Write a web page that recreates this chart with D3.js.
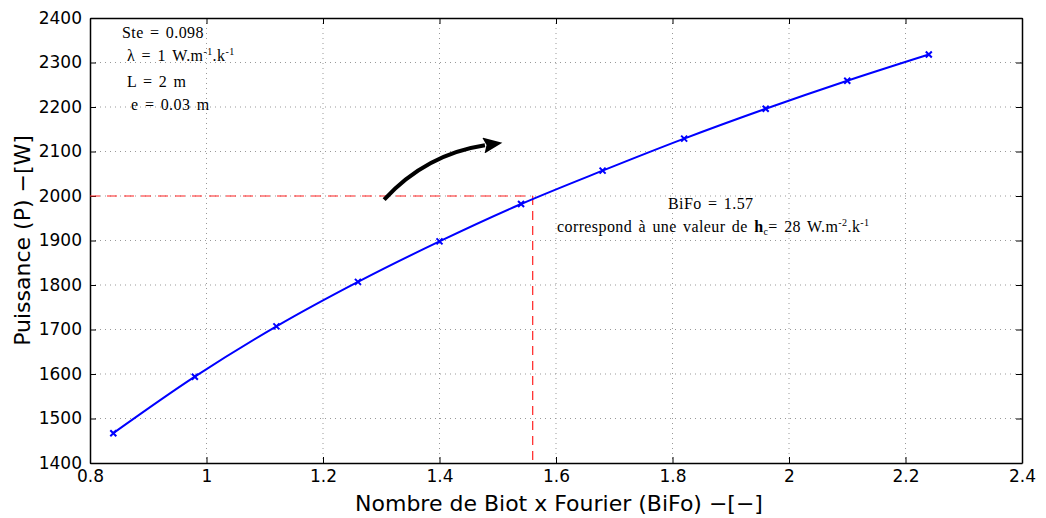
<!DOCTYPE html>
<html><head><meta charset="utf-8">
<script src="https://cdn.jsdelivr.net/npm/d3@7"></script>
<style>body{margin:0;background:#fff}svg{display:block}</style>
</head><body><svg id="c" width="1046" height="518"></svg>
<script>
const bifo = [0.84, 0.98, 1.12, 1.26, 1.40, 1.54, 1.68, 1.82, 1.96, 2.10, 2.24];
const power = [1467, 1594, 1707, 1807, 1898, 1982, 2057, 2129, 2196, 2259, 2318];
const xTicks = [0.8, 1, 1.2, 1.4, 1.6, 1.8, 2, 2.2, 2.4];
const yTicks = [1400, 1500, 1600, 1700, 1800, 1900, 2000, 2100, 2200, 2300, 2400];
const refX = 1.56, refY = 2000;
const arrowPts = [[1.305, 1992], [1.377, 2094], [1.478, 2114]];

const svg = d3.select("#c");
const L = 90, R = 1022, T = 18, B = 463;
const x = d3.scaleLinear().domain([0.8, 2.4]).range([L, R]);
const y = d3.scaleLinear().domain([1400, 2400]).range([B, T]);

// grid
const g = svg.append("g");
g.selectAll("line.gx").data(xTicks.slice(1, -1)).join("line")
  .attr("x1", d => x(d)).attr("x2", d => x(d)).attr("y1", T).attr("y2", B)
  .attr("stroke", "#999").attr("stroke-width", 1).attr("stroke-dasharray", "1,4");
g.selectAll("line.gy").data(yTicks.slice(1, -1)).join("line")
  .attr("y1", d => y(d)).attr("y2", d => y(d)).attr("x1", L).attr("x2", R)
  .attr("stroke", "#999").attr("stroke-width", 1).attr("stroke-dasharray", "1,4");

// axes
const tickFmt = d => String(d);
const ax = svg.append("g").attr("transform", `translate(0,${B})`)
  .call(d3.axisBottom(x).tickValues(xTicks).tickFormat(tickFmt).tickSizeInner(-6).tickSizeOuter(0).tickPadding(7));
const ay = svg.append("g").attr("transform", `translate(${L},0)`)
  .call(d3.axisLeft(y).tickValues(yTicks).tickFormat(tickFmt).tickSizeInner(-6).tickSizeOuter(0).tickPadding(8));
const at = svg.append("g").attr("transform", `translate(0,${T})`)
  .call(d3.axisTop(x).tickValues(xTicks).tickFormat("").tickSizeInner(-6).tickSizeOuter(0));
const ar = svg.append("g").attr("transform", `translate(${R},0)`)
  .call(d3.axisRight(y).tickValues(yTicks).tickFormat("").tickSizeInner(-6).tickSizeOuter(0));
[ax, ay, at, ar].forEach(a => {
  a.select(".domain").attr("stroke", "#000").attr("stroke-width", 1.5);
  a.selectAll(".tick line").attr("stroke", "#000");
  a.selectAll("text").attr("font-family", "DejaVu Sans").attr("font-size", 17).attr("fill", "#000");
});

// red reference lines
svg.append("line").attr("x1", x(0.8)).attr("x2", x(refX)).attr("y1", y(refY)).attr("y2", y(refY))
  .attr("stroke", "#f22").attr("stroke-width", 1.2).attr("stroke-dasharray", "10,7");
svg.append("line").attr("x1", x(refX)).attr("x2", x(refX)).attr("y1", y(refY)).attr("y2", B)
  .attr("stroke", "#f22").attr("stroke-width", 1.2).attr("stroke-dasharray", "9,6");

// data line
svg.append("path").datum(bifo.map((d, i) => [d, power[i]]))
  .attr("d", d3.line().x(d => x(d[0])).y(d => y(d[1])).curve(d3.curveMonotoneX))
  .attr("fill", "none").attr("stroke", "#0000ff").attr("stroke-width", 2);
svg.selectAll("path.mk").data(bifo.map((d, i) => [d, power[i]])).join("path")
  .attr("d", d => { const cx = x(d[0]), cy = y(d[1]), s = 3; return `M${cx-s},${cy-s}L${cx+s},${cy+s}M${cx-s},${cy+s}L${cx+s},${cy-s}`; })
  .attr("stroke", "#0000ff").attr("stroke-width", 2);

// arrow
const defs = svg.append("defs");
defs.append("marker").attr("id", "ah").attr("viewBox", "0 0 12 10").attr("refX", 1).attr("refY", 5)
  .attr("markerWidth", 6).attr("markerHeight", 4).attr("markerUnits", "strokeWidth").attr("orient", "auto")
  .append("path").attr("d", "M0,0L12,5L0,10L2,5Z").attr("fill", "#000");
const p0 = arrowPts.map(d => [x(d[0]), y(d[1])]);
svg.append("path").attr("d", `M${p0[0][0]},${p0[0][1]}Q${p0[1][0]},${p0[1][1]} ${p0[2][0]},${p0[2][1]}`)
  .attr("fill", "none").attr("stroke", "#000").attr("stroke-width", 4).attr("marker-end", "url(#ah)");

// annotation texts
const serif = "Liberation Serif";
const t1 = svg.append("g").attr("font-family", serif).attr("font-size", 16).attr("fill", "#000")
  .attr("letter-spacing", 0.4).attr("word-spacing", 2);
t1.append("text").attr("x", 122).attr("y", 38).text("Ste = 0.098");
const lam = t1.append("text").attr("x", 127).attr("y", 61);
lam.append("tspan").text("λ = 1 W.m");
lam.append("tspan").attr("font-size", 10).attr("dy", -6).text("-1");
lam.append("tspan").attr("dy", 6).text(".k");
lam.append("tspan").attr("font-size", 10).attr("dy", -6).text("-1");
t1.append("text").attr("x", 127).attr("y", 87).text("L = 2 m");
t1.append("text").attr("x", 131).attr("y", 110).text("e = 0.03 m");

const t2 = svg.append("g").attr("font-family", serif).attr("font-size", 16).attr("fill", "#000")
  .attr("letter-spacing", 0.4).attr("word-spacing", 2);
t2.append("text").attr("x", 668).attr("y", 209).text("BiFo = 1.57");
const cr = t2.append("text").attr("x", 557).attr("y", 232);
cr.append("tspan").text("correspond à une valeur de ");
cr.append("tspan").attr("font-weight", "bold").text("h");
cr.append("tspan").attr("font-size", 10).attr("dy", 3).text("c");
cr.append("tspan").attr("dy", -3).text("= 28 W.m");
cr.append("tspan").attr("font-size", 10).attr("dy", -6).text("-2");
cr.append("tspan").attr("dy", 6).text(".k");
cr.append("tspan").attr("font-size", 10).attr("dy", -6).text("-1");

// axis titles
svg.append("text").attr("x", 559).attr("y", 511).attr("text-anchor", "middle")
  .attr("font-family", "DejaVu Sans").attr("font-size", 22).text("Nombre de Biot x Fourier (BiFo) −[−]");
svg.append("text").attr("transform", `translate(30,${(T + B) / 2}) rotate(-90)`).attr("text-anchor", "middle")
  .attr("font-family", "DejaVu Sans").attr("font-size", 22).text("Puissance (P) −[W]");
</script></body></html>
